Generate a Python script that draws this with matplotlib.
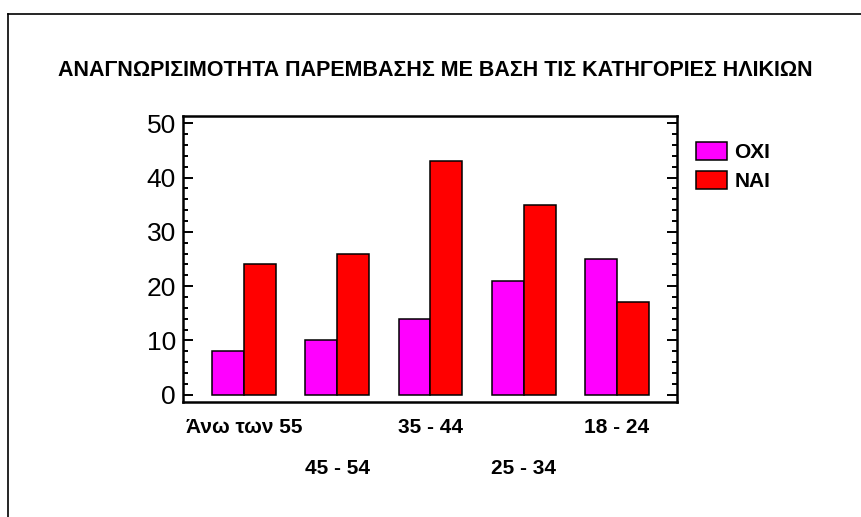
import numpy as np
import matplotlib.pyplot as plt
from matplotlib.lines import Line2D
from matplotlib.patches import Patch

plt.rcParams['font.family'] = ['Liberation Sans', 'DejaVu Sans']

# age groups and answers per group
groups = ['Άνω των 55', '45 - 54', '35 - 44', '25 - 34', '18 - 24']
oxi = [8, 10, 14, 21, 25]
nai = [24, 26, 43, 35, 17]
series_labels = ['ΟΧΙ', 'ΝΑΙ']
title = 'ΑΝΑΓΝΩΡΙΣΙΜΟΤΗΤΑ ΠΑΡΕΜΒΑΣΗΣ ΜΕ ΒΑΣΗ ΤΙΣ ΚΑΤΗΓΟΡΙΕΣ ΗΛΙΚΙΩΝ'

W, H = 861, 517
fig = plt.figure(figsize=(W / 100, H / 100), dpi=100)

# outer frame (top and left edges only)
fig.add_artist(Line2D([8 / W, 1], [1 - 14 / H, 1 - 14 / H], color='black', lw=1.2,
                      transform=fig.transFigure))
fig.add_artist(Line2D([8 / W, 8 / W], [0, 1 - 14 / H], color='black', lw=1.2,
                      transform=fig.transFigure))

fig.text(435 / W, 1 - 70 / H, title, ha='center', va='center',
         fontsize=15.5, fontweight='bold')

ax = fig.add_axes([182.7 / W, 115.3 / H, 494 / W, 286 / H])

x = np.arange(len(groups))
w = 0.343
ax.bar(x - w / 2, oxi, w, color='#ff00ff', edgecolor='black', linewidth=1.1,
       label=series_labels[0])
ax.bar(x + w / 2, nai, w, color='#ff0000', edgecolor='black', linewidth=1.1,
       label=series_labels[1])

ax.set_xlim(-0.657, 4.64)
ax.set_ylim(-1.29, 51.4)
ax.set_yticks(np.arange(0, 51, 10))
ax.set_yticks(np.arange(0, 51, 2), minor=True)
ax.tick_params(axis='y', which='major', direction='in', length=7.2, width=1.4,
               left=True, right=True, labelsize=19, pad=5)
ax.tick_params(axis='y', which='minor', direction='in', length=3.6, width=1.4,
               left=True, right=True)
ax.set_xticks([])
for s in ax.spines.values():
    s.set_linewidth(1.8)

# staggered category labels
for i, g in enumerate(groups):
    off = -18.5 if i % 2 == 0 else -48
    ax.annotate(g, xy=(x[i], 0), xycoords=('data', 'axes fraction'),
                xytext=(0, off), textcoords='offset points',
                ha='center', va='center', fontsize=15, fontweight='bold')

handles = [Patch(facecolor='#ff00ff', edgecolor='black', linewidth=1.1),
           Patch(facecolor='#ff0000', edgecolor='black', linewidth=1.1)]
fig.legend(handles, series_labels, loc='upper left',
           bbox_to_anchor=(688 / W, 1 - 134 / H), frameon=False,
           prop={'weight': 'bold', 'size': 15},
           handlelength=1.49, handleheight=0.95, handletextpad=0.33,
           labelspacing=0.4, borderaxespad=0)

fig.savefig('out.png', dpi=100)
